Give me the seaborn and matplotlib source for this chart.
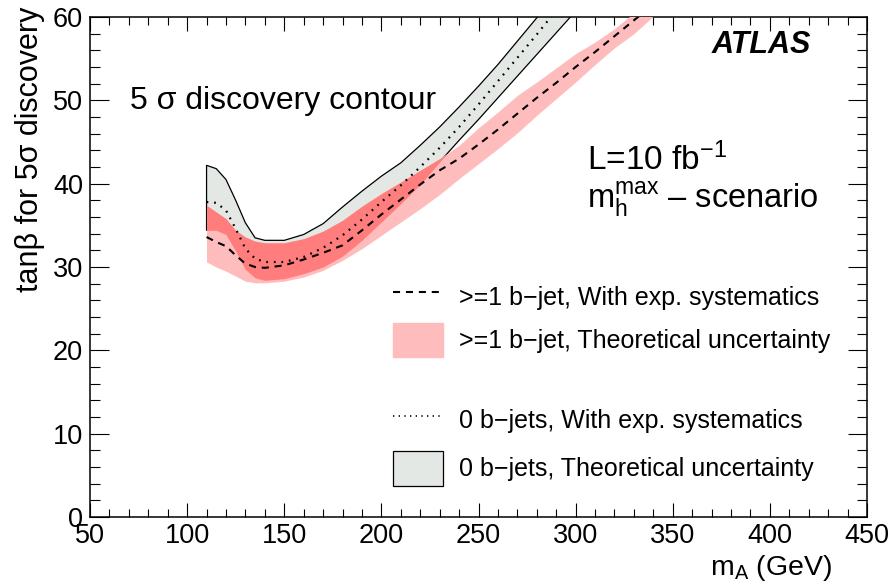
import numpy as np
import pandas as pd
import matplotlib
matplotlib.use("Agg")
import matplotlib.pyplot as plt
import seaborn as sns
from matplotlib.patches import Patch
from matplotlib.lines import Line2D
from matplotlib.ticker import MultipleLocator

# ---------------- data ----------------
m_A = [110, 115, 120, 125, 130, 135, 140, 150, 160, 170, 180, 190, 200,
       210, 220, 230, 240, 250, 260, 270, 280, 290, 300, 310, 320, 330, 340, 350]

# 0 b-jets: theoretical-uncertainty band and central (exp. syst.) curve (first 23 grid points)
nob_upper = [42.2, 41.8, 40.5, 38.0, 35.3, 33.5, 33.2, 33.2, 33.9, 35.2, 37.2, 39.1, 40.9,
             42.5, 44.6, 46.8, 49.2, 51.7, 54.3, 57.1, 59.9, 62.8, 65.7]
nob_lower = [34.4, 34.4, 33.9, 31.9, 29.7, 28.7, 28.4, 28.6, 29.2, 30.0, 31.3, 33.2, 35.4,
             37.6, 39.9, 42.6, 45.2, 47.7, 50.3, 52.9, 55.5, 58.1, 60.7]
nob_central = [37.8, 37.7, 36.8, 34.6, 32.2, 31.0, 30.6, 30.6, 31.2, 32.3, 33.8, 35.7, 37.8,
               39.8, 42.0, 44.3, 46.8, 49.5, 52.3, 55.1, 57.9, 60.8, 63.7]

# >=1 b-jet: theoretical-uncertainty band and central (exp. syst.) curve
b1_upper = [37.4, 36.6, 35.8, 34.4, 33.6, 33.1, 32.9, 32.9, 33.4, 34.3, 35.6, 37.3, 38.8,
            40.2, 41.6, 43.0, 44.6, 46.7, 48.6, 50.6, 52.2, 53.9, 55.6, 57.0, 58.6, 60.5, 62.3, 64.1]
b1_lower = [30.6, 30.0, 29.5, 28.9, 28.3, 28.1, 28.1, 28.3, 28.8, 29.6, 30.8, 32.2, 33.8,
            35.4, 37.0, 38.7, 40.6, 42.4, 44.2, 46.1, 48.2, 50.2, 52.2, 54.3, 56.3, 58.0, 60.1, 62.0]
b1_central = [33.6, 33.0, 32.5, 31.4, 30.4, 30.0, 29.9, 30.2, 30.9, 31.7, 32.6, 34.4, 36.3,
              38.1, 39.9, 41.6, 43.0, 44.7, 46.5, 48.4, 50.3, 52.1, 54.0, 55.8, 57.7, 59.6, 61.5, 63.4]

x_ticks = [50, 100, 150, 200, 250, 300, 350, 400, 450]
y_ticks = [0, 10, 20, 30, 40, 50, 60]

labels = [">=1 b\u2212jet, With exp. systematics",
          ">=1 b\u2212jet, Theoretical uncertainty",
          "0 b\u2212jets, With exp. systematics",
          "0 b\u2212jets, Theoretical uncertainty"]

# ---------------- styling ----------------
sns.set_theme(style="ticks")
plt.rcParams["font.family"] = ["Liberation Sans", "DejaVu Sans"]
plt.rcParams["mathtext.fontset"] = "custom"
plt.rcParams["mathtext.rm"] = "Liberation Sans"
plt.rcParams["mathtext.it"] = "Liberation Sans:italic"
plt.rcParams["mathtext.bf"] = "Liberation Sans:bold"
plt.rcParams["text.color"] = "black"
plt.rcParams["axes.labelcolor"] = "black"
plt.rcParams["legend.labelcolor"] = "black"

PINK = "#ffbcbc"
DARK = "#ff7d7d"
GREY = "#e4e8e4"

fig = plt.figure(figsize=(8.88, 5.87), dpi=100)
ax = fig.add_axes([90 / 888, 1 - 517 / 587, 777 / 888, 500 / 587])

n0 = len(nob_upper)
m0 = np.array(m_A[:n0], dtype=float)
m1 = np.array(m_A, dtype=float)
nu = np.array(nob_upper); nl = np.array(nob_lower)
bu = np.array(b1_upper); bl = np.array(b1_lower)

# 0 b-jets band (grey, black outline)
ax.fill(np.r_[m0, m0[::-1]], np.r_[nu, nl[::-1]], facecolor=GREY,
        edgecolor="black", linewidth=0.9, zorder=2)
# >=1 b-jet band (pink)
ax.fill_between(m1, bl, bu, color=PINK, linewidth=0, zorder=3)
# overlap of the two bands (darker red)
ov_lo = np.maximum(nl, bl[:n0])
ov_hi = np.minimum(nu, bu[:n0])
ax.fill_between(m0, ov_lo, ov_hi, where=ov_hi >= ov_lo, interpolate=True,
                color=DARK, linewidth=0, zorder=4)

df0 = pd.DataFrame({"m_A": m_A[:n0], "tanb": nob_central})
df1 = pd.DataFrame({"m_A": m_A, "tanb": b1_central})
sns.lineplot(data=df0, x="m_A", y="tanb", ax=ax, color="black", linewidth=1.6,
             linestyle=(0, (0.8, 2.6)), zorder=5)
sns.lineplot(data=df1, x="m_A", y="tanb", ax=ax, color="black", linewidth=1.5,
             linestyle=(0, (3.4, 2.8)), zorder=5)

ax.set_xlim(50, 450)
ax.set_ylim(0, 60)
ax.set_xticks(x_ticks)
ax.set_yticks(y_ticks)
ax.xaxis.set_minor_locator(MultipleLocator(10))
ax.yaxis.set_minor_locator(MultipleLocator(2))
ax.tick_params(axis="both", which="both", direction="in", top=True, right=True,
               colors="black", width=0.8, labelsize=19.5)
ax.tick_params(axis="x", which="major", length=10, pad=4)
ax.tick_params(axis="x", which="minor", length=5.5)
ax.tick_params(axis="y", which="major", length=14, pad=5)
ax.tick_params(axis="y", which="minor", length=7)
for s in ax.spines.values():
    s.set_linewidth(1.1)
    s.set_color("black")
ax.set_xlabel("")
ax.set_ylabel("")
ax.grid(False)

fig.text(0.034, 0.988, "tan\u03b2 for 5\u03c3 discovery", rotation=90,
         ha="center", va="top", fontsize=22)
fig.text(832 / 888, 1 - 568 / 587, "$\\mathregular{m_A}$ (GeV)",
         ha="right", va="center", fontsize=20.5)

ax.text(0.052, 0.831, "5 \u03c3 discovery contour", transform=ax.transAxes,
        ha="left", va="center", fontsize=23)
ax.text(0.64, 0.714, "L=10 fb$^{\\mathregular{-1}}$", transform=ax.transAxes,
        ha="left", va="center", fontsize=24)
ax.text(0.64, 0.636, "$\\mathregular{m_h^{max}}$ \u2013 scenario", transform=ax.transAxes,
        ha="left", va="center", fontsize=23.5)
ax.text(0.8, 0.944, "ATLAS", transform=ax.transAxes, ha="left", va="center",
        fontsize=22, fontweight="bold", fontstyle="italic")

# legends
h1 = [Line2D([], [], color="black", linewidth=1.5, linestyle=(0, (3.4, 2.8))),
      Patch(facecolor=PINK, edgecolor=PINK)]
h2 = [Line2D([], [], color="black", linewidth=1.2, linestyle=(0, (0.8, 2.6))),
      Patch(facecolor=GREY, edgecolor="black", linewidth=0.9)]
leg1 = ax.legend(h1, labels[:2], loc="upper left", bbox_to_anchor=(0.39, 0.475),
                 frameon=False, fontsize=18, handlelength=2.0, handleheight=1.75,
                 handletextpad=0.65, labelspacing=0.34, borderpad=0, borderaxespad=0)
ax.add_artist(leg1)
ax.legend(h2, labels[2:], loc="upper left", bbox_to_anchor=(0.39, 0.228),
          frameon=False, fontsize=18, handlelength=2.0, handleheight=1.75,
          handletextpad=0.65, labelspacing=0.54, borderpad=0, borderaxespad=0)

fig.savefig("out.png", dpi=100)
